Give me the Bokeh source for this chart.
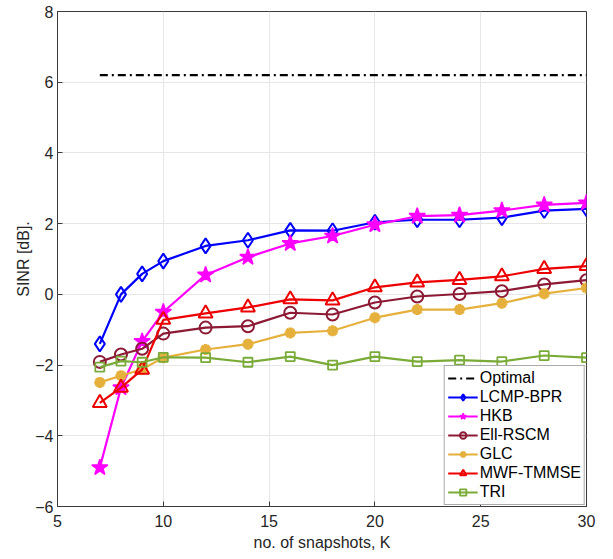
from bokeh.plotting import figure
from bokeh.models import Range1d, FixedTicker, Legend
from bokeh.embed import file_html
from bokeh.resources import INLINE

# ---- data ----
K = [7, 8, 9, 10, 12, 14, 16, 18, 20, 22, 24, 26, 28, 30]
optimal_x = [7, 30]
optimal_y = [6.2, 6.2]
lcmp_bpr = [-1.40, 0.00, 0.58, 0.94, 1.37, 1.53, 1.81, 1.80, 2.04, 2.11, 2.11, 2.17, 2.37, 2.42]
hkb = [-4.90, -2.64, -1.33, -0.50, 0.55, 1.05, 1.44, 1.65, 1.97, 2.21, 2.24, 2.37, 2.53, 2.59]
ell_rscm = [-1.91, -1.70, -1.54, -1.11, -0.94, -0.90, -0.52, -0.57, -0.23, -0.06, 0.01, 0.09, 0.28, 0.40]
glc = [-2.49, -2.30, -2.12, -1.79, -1.56, -1.41, -1.09, -1.03, -0.66, -0.43, -0.43, -0.25, 0.02, 0.18]
mwf_tmmse = [-3.07, -2.64, -2.13, -0.72, -0.54, -0.37, -0.14, -0.17, 0.20, 0.34, 0.41, 0.51, 0.72, 0.80]
tri = [-2.06, -1.89, -1.92, -1.78, -1.79, -1.92, -1.76, -2.00, -1.76, -1.90, -1.86, -1.90, -1.73, -1.79]

x_ticks = [5, 10, 15, 20, 25, 30]
y_ticks = [-6, -4, -2, 0, 2, 4, 6, 8]

FONT = "Liberation Sans"
AX = "#3a3a3a"

p = figure(width=600, height=551, output_backend="svg", toolbar_location=None,
           x_range=Range1d(5, 30), y_range=Range1d(-6, 8),
           min_border_left=57, min_border_right=14, min_border_top=11, min_border_bottom=45,
           frame_width=529, frame_height=495)

p.outline_line_color = AX
p.outline_line_width = 1
p.background_fill_color = "white"

for ax in (p.xaxis[0], p.yaxis[0]):
    ax.major_label_text_font = FONT
    ax.major_label_text_font_size = "16px"
    ax.major_label_text_color = "#262626"
    ax.axis_label_text_font = FONT
    ax.axis_label_text_font_size = "16px"
    ax.axis_label_text_font_style = "normal"
    ax.axis_label_text_color = "#262626"
    ax.axis_line_color = AX
    ax.major_tick_line_color = AX
    ax.major_tick_in = 5
    ax.major_tick_out = 0
    ax.minor_tick_line_color = None

p.xaxis[0].ticker = FixedTicker(ticks=x_ticks)
p.yaxis[0].ticker = FixedTicker(ticks=y_ticks)
p.xaxis[0].axis_label = "no. of snapshots, K"
p.yaxis[0].axis_label = "SINR [dB]."
p.xaxis[0].major_label_standoff = 8
p.xaxis[0].axis_label_standoff = 4
p.yaxis[0].major_label_standoff = 4
p.yaxis[0].axis_label_standoff = 0

p.xgrid.ticker = FixedTicker(ticks=x_ticks)
p.ygrid.ticker = FixedTicker(ticks=y_ticks)
p.grid.grid_line_color = "#e6e6e6"
p.grid.grid_line_width = 1

items = []

r = p.line(optimal_x, optimal_y, line_color="black", line_width=2.2, line_dash="8 4 2 4")
items.append(("Optimal", [r]))

def series(y, color, marker, size, label, fill=False, lw=2.2, mlw=2.0):
    l = p.line(K, y, line_color=color, line_width=lw)
    s = p.scatter(K, y, marker=marker, size=size, line_color=color, line_width=mlw,
                  fill_color=color if fill else None)
    items.append((label, [l, s]))

series(lcmp_bpr, "#0000ff", "diamond", 15, "LCMP-BPR")
series(hkb, "#ff00ff", "star", 17, "HKB", fill=True, mlw=1.5)
series(ell_rscm, "#8c1a35", "circle", 12, "Ell-RSCM")
series(glc, "#e6b03c", "asterisk", 11, "GLC", mlw=3.5)
series(mwf_tmmse, "#ee0000", "triangle", 14, "MWF-TMMSE")
series(tri, "#7aab38", "square", 9, "TRI", mlw=1.8)

legend = Legend(items=items, location="bottom_right")
legend.label_text_font = FONT
legend.label_text_font_size = "16px"
legend.label_text_color = "black"
legend.label_standoff = 2
legend.glyph_width = 30
legend.glyph_height = 16
legend.label_height = 16
legend.spacing = 1
legend.padding = 3
legend.margin = 1
legend.border_line_color = "#555555"
legend.border_line_width = 1
legend.background_fill_color = "white"
legend.background_fill_alpha = 1
p.add_layout(legend)

open("out.html", "w").write(file_html(p, INLINE))
